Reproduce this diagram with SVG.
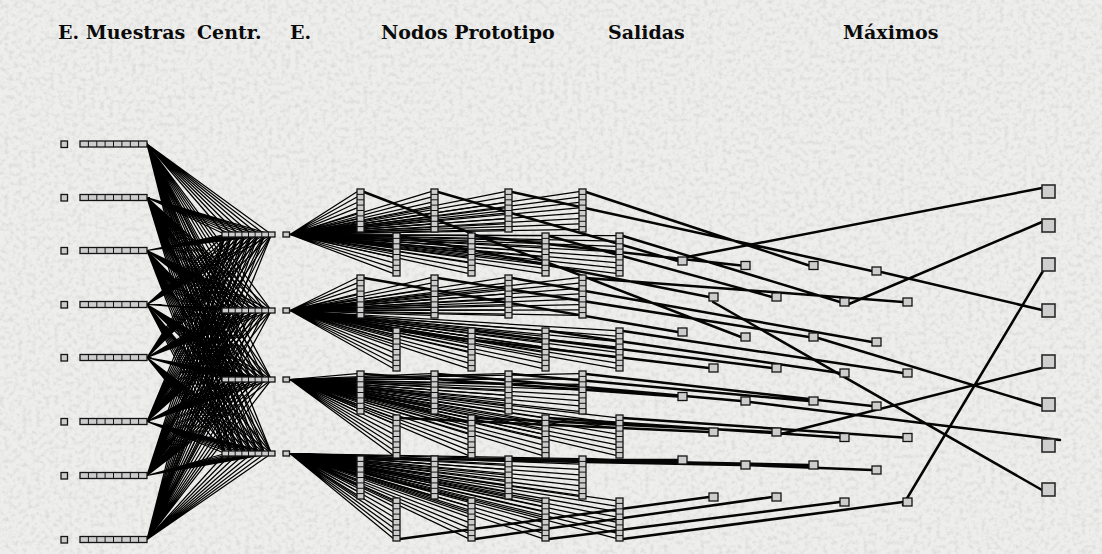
<svg xmlns="http://www.w3.org/2000/svg" xmlns:xlink="http://www.w3.org/1999/xlink" width="1102" height="554" viewBox="0 0 1102 554">
<style>
.t{font-family:"DejaVu Serif","Liberation Serif",serif;font-weight:bold;font-size:19px;fill:#0a0a0a}
.nd{fill:#cdcdcd;stroke:#141414;stroke-width:1.3}
.dv{fill:none;stroke:#141414;stroke-width:1}
.th{fill:none;stroke:#050505;stroke-width:2.5;stroke-linecap:round}
.mx{fill:#cfcfcf;stroke:#2a2a2a;stroke-width:1.6}
</style>
<defs>
<filter id="tx" x="0" y="0" width="1102" height="554" filterUnits="userSpaceOnUse">
<feTurbulence type="fractalNoise" baseFrequency="0.22" numOctaves="3" seed="11"/>
<feColorMatrix values="0 0 0 0 0.6 0 0 0 0 0.6 0 0 0 0 0.59 2.3 0 0 0 -1.0"/>
</filter>
<path id="f8" d="M0 0L0 1M0 0L1 1M0 0L2 1M0 0L3 1M0 0L4 1M0 0L5 1M0 0L6 1M0 0L7 1" fill="none" stroke="#000" stroke-width="1.25" vector-effect="non-scaling-stroke"/>
<g id="srow"><rect class="nd" width="67" height="6"/><path class="dv" d="M8.4 0v6M16.8 0v6M25.1 0v6M33.5 0v6M41.9 0v6M50.3 0v6M58.6 0v6"/></g>
<g id="crow"><rect class="nd" width="53" height="5"/><path class="dv" d="M6.6 0v5M13.2 0v5M19.9 0v5M26.5 0v5M33.1 0v5M39.8 0v5M46.4 0v5"/></g>
<g id="lad"><rect class="nd" width="7" height="43"/><path class="dv" d="M0 5.4h7M0 10.8h7M0 16.1h7M0 21.5h7M0 26.9h7M0 32.3h7M0 37.6h7"/></g>
</defs>
<rect width="1102" height="554" fill="#eeeeec"/>
<rect width="1102" height="554" filter="url(#tx)" opacity="0.55"/>
<g id="titles">
<text class="t" x="58" y="39">E. Muestras</text>
<text class="t" x="197" y="39">Centr.</text>
<text class="t" x="290" y="39">E.</text>
<text class="t" x="381" y="39">Nodos Prototipo</text>
<text class="t" x="608" y="39">Salidas</text>
<text class="t" x="843" y="39">Máximos</text>
</g>
<g id="connectors">
<g id="fans-left">
<use href="#f8" transform="matrix(6.6 0 78.3 90.5 147 144)"/><use href="#f8" transform="matrix(6.6 0 78.3 166.5 147 144)"/><use href="#f8" transform="matrix(6.6 0 78.3 235.5 147 144)"/><use href="#f8" transform="matrix(6.6 0 78.3 309.5 147 144)"/>
<use href="#f8" transform="matrix(6.6 0 78.3 37 147 197.5)"/><use href="#f8" transform="matrix(6.6 0 78.3 113 147 197.5)"/><use href="#f8" transform="matrix(6.6 0 78.3 182 147 197.5)"/><use href="#f8" transform="matrix(6.6 0 78.3 256 147 197.5)"/>
<use href="#f8" transform="matrix(6.6 0 78.3 -16 147 250.5)"/><use href="#f8" transform="matrix(6.6 0 78.3 60 147 250.5)"/><use href="#f8" transform="matrix(6.6 0 78.3 129 147 250.5)"/><use href="#f8" transform="matrix(6.6 0 78.3 203 147 250.5)"/>
<use href="#f8" transform="matrix(6.6 0 78.3 -70 147 304.5)"/><use href="#f8" transform="matrix(6.6 0 78.3 6 147 304.5)"/><use href="#f8" transform="matrix(6.6 0 78.3 75 147 304.5)"/><use href="#f8" transform="matrix(6.6 0 78.3 149 147 304.5)"/>
<use href="#f8" transform="matrix(6.6 0 78.3 -123 147 357.5)"/><use href="#f8" transform="matrix(6.6 0 78.3 -47 147 357.5)"/><use href="#f8" transform="matrix(6.6 0 78.3 22 147 357.5)"/><use href="#f8" transform="matrix(6.6 0 78.3 96 147 357.5)"/>
<use href="#f8" transform="matrix(6.6 0 78.3 -187 147 421.5)"/><use href="#f8" transform="matrix(6.6 0 78.3 -111 147 421.5)"/><use href="#f8" transform="matrix(6.6 0 78.3 -42 147 421.5)"/><use href="#f8" transform="matrix(6.6 0 78.3 32 147 421.5)"/>
<use href="#f8" transform="matrix(6.6 0 78.3 -241 147 475.5)"/><use href="#f8" transform="matrix(6.6 0 78.3 -165 147 475.5)"/><use href="#f8" transform="matrix(6.6 0 78.3 -96 147 475.5)"/><use href="#f8" transform="matrix(6.6 0 78.3 -22 147 475.5)"/>
<use href="#f8" transform="matrix(6.6 0 78.3 -305 147 539.5)"/><use href="#f8" transform="matrix(6.6 0 78.3 -229 147 539.5)"/><use href="#f8" transform="matrix(6.6 0 78.3 -160 147 539.5)"/><use href="#f8" transform="matrix(6.6 0 78.3 -86 147 539.5)"/>
</g>
<g id="fans-proto">
<use href="#f8" transform="matrix(0 5.375 67 -42.8 290 234.5)"/><use href="#f8" transform="matrix(0 5.375 141 -42.8 290 234.5)"/><use href="#f8" transform="matrix(0 5.375 215 -42.8 290 234.5)"/><use href="#f8" transform="matrix(0 5.375 289 -42.8 290 234.5)"/>
<use href="#f8" transform="matrix(0 5.375 103 1.2 290 234.5)"/><use href="#f8" transform="matrix(0 5.375 178 1.2 290 234.5)"/><use href="#f8" transform="matrix(0 5.375 252 1.2 290 234.5)"/><use href="#f8" transform="matrix(0 5.375 326 1.2 290 234.5)"/>
<use href="#f8" transform="matrix(0 5.375 67 -32.8 290 310.5)"/><use href="#f8" transform="matrix(0 5.375 141 -32.8 290 310.5)"/><use href="#f8" transform="matrix(0 5.375 215 -32.8 290 310.5)"/><use href="#f8" transform="matrix(0 5.375 289 -32.8 290 310.5)"/>
<use href="#f8" transform="matrix(0 5.375 103 20.2 290 310.5)"/><use href="#f8" transform="matrix(0 5.375 178 20.2 290 310.5)"/><use href="#f8" transform="matrix(0 5.375 252 20.2 290 310.5)"/><use href="#f8" transform="matrix(0 5.375 326 20.2 290 310.5)"/>
<use href="#f8" transform="matrix(0 5.375 67 -5.8 290 379.5)"/><use href="#f8" transform="matrix(0 5.375 141 -5.8 290 379.5)"/><use href="#f8" transform="matrix(0 5.375 215 -5.8 290 379.5)"/><use href="#f8" transform="matrix(0 5.375 289 -5.8 290 379.5)"/>
<use href="#f8" transform="matrix(0 5.375 103 38.2 290 379.5)"/><use href="#f8" transform="matrix(0 5.375 178 38.2 290 379.5)"/><use href="#f8" transform="matrix(0 5.375 252 38.2 290 379.5)"/><use href="#f8" transform="matrix(0 5.375 326 38.2 290 379.5)"/>
<use href="#f8" transform="matrix(0 5.375 67 5.2 290 453.5)"/><use href="#f8" transform="matrix(0 5.375 141 5.2 290 453.5)"/><use href="#f8" transform="matrix(0 5.375 215 5.2 290 453.5)"/><use href="#f8" transform="matrix(0 5.375 289 5.2 290 453.5)"/>
<use href="#f8" transform="matrix(0 5.375 103 47.2 290 453.5)"/><use href="#f8" transform="matrix(0 5.375 178 47.2 290 453.5)"/><use href="#f8" transform="matrix(0 5.375 252 47.2 290 453.5)"/><use href="#f8" transform="matrix(0 5.375 326 47.2 290 453.5)"/>
</g>
<path id="proto-out" class="th" d="M364 192L741 337M438 192L678 261M512 192L872 271M586 192L809 265.5M400 236L709 297M475 236L741 265.5M549 236L772 297M623 236L840 302
M364 278L678 332M438 278L809 337M512 278L872 342M586 278L903 302M400 331L709 368M475 331L772 368M549 331L840 373M623 331L903 373
M364 374L678 396.5M438 374L741 401M512 374L809 401M586 374L872 406M400 418L709 432M475 418L772 432M549 418L840 437.5M623 418L903 437.5
M364 459L678 460M438 459L741 465M512 459L809 465M586 459L872 470M400 539L709 497M475 539L772 497M549 539L840 502M623 539L903 502"/>
<path id="max-in" class="th" d="M687 257L1042 188M849 304L1042 222M903 505L1046 266M881 272L1042 310M781 434L1042 368M818 338L1042 406M750 402L1060 440M713 302L1042 490"/>
</g>
<g id="inputs">
<rect id="x1" class="nd" x="61" y="141" width="6.5" height="6.5"/><rect id="x2" class="nd" x="61" y="194.5" width="6.5" height="6.5"/><rect id="x3" class="nd" x="61" y="247.5" width="6.5" height="6.5"/><rect id="x4" class="nd" x="61" y="301.5" width="6.5" height="6.5"/>
<rect id="x5" class="nd" x="61" y="354.5" width="6.5" height="6.5"/><rect id="x6" class="nd" x="61" y="418.5" width="6.5" height="6.5"/><rect id="x7" class="nd" x="61" y="472.5" width="6.5" height="6.5"/><rect id="x8" class="nd" x="61" y="536.5" width="6.5" height="6.5"/>
</g>
<g id="muestras">
<use id="m1" href="#srow" x="80" y="141"/><use id="m2" href="#srow" x="80" y="194.5"/><use id="m3" href="#srow" x="80" y="247.5"/><use id="m4" href="#srow" x="80" y="301.5"/>
<use id="m5" href="#srow" x="80" y="354.5"/><use id="m6" href="#srow" x="80" y="418.5"/><use id="m7" href="#srow" x="80" y="472.5"/><use id="m8" href="#srow" x="80" y="536.5"/>
</g>
<g id="centr">
<use id="c1" href="#crow" x="222" y="232"/><use id="c2" href="#crow" x="222" y="308"/><use id="c3" href="#crow" x="222" y="377"/><use id="c4" href="#crow" x="222" y="451"/>
</g>
<g id="enodes">
<rect id="e1" class="nd" x="283" y="232" width="6.5" height="5"/><rect id="e2" class="nd" x="283" y="308" width="6.5" height="5"/><rect id="e3" class="nd" x="283" y="377" width="6.5" height="5"/><rect id="e4" class="nd" x="283" y="451" width="6.5" height="5"/>
</g>
<g id="prototipos">
<use id="p1a" href="#lad" x="357" y="189"/><use id="p1b" href="#lad" x="431" y="189"/><use id="p1c" href="#lad" x="505" y="189"/><use id="p1d" href="#lad" x="579" y="189"/>
<use id="p1e" href="#lad" x="393" y="233"/><use id="p1f" href="#lad" x="468" y="233"/><use id="p1g" href="#lad" x="542" y="233"/><use id="p1h" href="#lad" x="616" y="233"/>
<use id="p2a" href="#lad" x="357" y="275"/><use id="p2b" href="#lad" x="431" y="275"/><use id="p2c" href="#lad" x="505" y="275"/><use id="p2d" href="#lad" x="579" y="275"/>
<use id="p2e" href="#lad" x="393" y="328"/><use id="p2f" href="#lad" x="468" y="328"/><use id="p2g" href="#lad" x="542" y="328"/><use id="p2h" href="#lad" x="616" y="328"/>
<use id="p3a" href="#lad" x="357" y="371"/><use id="p3b" href="#lad" x="431" y="371"/><use id="p3c" href="#lad" x="505" y="371"/><use id="p3d" href="#lad" x="579" y="371"/>
<use id="p3e" href="#lad" x="393" y="415"/><use id="p3f" href="#lad" x="468" y="415"/><use id="p3g" href="#lad" x="542" y="415"/><use id="p3h" href="#lad" x="616" y="415"/>
<use id="p4a" href="#lad" x="357" y="456"/><use id="p4b" href="#lad" x="431" y="456"/><use id="p4c" href="#lad" x="505" y="456"/><use id="p4d" href="#lad" x="579" y="456"/>
<use id="p4e" href="#lad" x="393" y="498"/><use id="p4f" href="#lad" x="468" y="498"/><use id="p4g" href="#lad" x="542" y="498"/><use id="p4h" href="#lad" x="616" y="498"/>
</g>
<g id="salidas">
<rect class="nd" x="678" y="257" width="9" height="8"/><rect class="nd" x="741" y="261.5" width="9" height="8"/><rect class="nd" x="809" y="261.5" width="9" height="8"/><rect class="nd" x="872" y="267" width="9" height="8"/>
<rect class="nd" x="709" y="293" width="9" height="8"/><rect class="nd" x="772" y="293" width="9" height="8"/><rect class="nd" x="840" y="298" width="9" height="8"/><rect class="nd" x="903" y="298" width="9" height="8"/>
<rect class="nd" x="678" y="328" width="9" height="8"/><rect class="nd" x="741" y="333" width="9" height="8"/><rect class="nd" x="809" y="333" width="9" height="8"/><rect class="nd" x="872" y="338" width="9" height="8"/>
<rect class="nd" x="709" y="364" width="9" height="8"/><rect class="nd" x="772" y="364" width="9" height="8"/><rect class="nd" x="840" y="369" width="9" height="8"/><rect class="nd" x="903" y="369" width="9" height="8"/>
<rect class="nd" x="678" y="392.5" width="9" height="8"/><rect class="nd" x="741" y="397" width="9" height="8"/><rect class="nd" x="809" y="397" width="9" height="8"/><rect class="nd" x="872" y="402" width="9" height="8"/>
<rect class="nd" x="709" y="428" width="9" height="8"/><rect class="nd" x="772" y="428" width="9" height="8"/><rect class="nd" x="840" y="433.5" width="9" height="8"/><rect class="nd" x="903" y="433.5" width="9" height="8"/>
<rect class="nd" x="678" y="456" width="9" height="8"/><rect class="nd" x="741" y="461" width="9" height="8"/><rect class="nd" x="809" y="461" width="9" height="8"/><rect class="nd" x="872" y="466" width="9" height="8"/>
<rect class="nd" x="709" y="493" width="9" height="8"/><rect class="nd" x="772" y="493" width="9" height="8"/><rect class="nd" x="840" y="498" width="9" height="8"/><rect class="nd" x="903" y="498" width="9" height="8"/>
</g>
<g id="maximos">
<rect id="mx1" class="mx" x="1042" y="185" width="13" height="13"/><rect id="mx2" class="mx" x="1042" y="219" width="13" height="13"/><rect id="mx3" class="mx" x="1042" y="258" width="13" height="13"/><rect id="mx4" class="mx" x="1042" y="304" width="13" height="13"/>
<rect id="mx5" class="mx" x="1042" y="355" width="13" height="13"/><rect id="mx6" class="mx" x="1042" y="398" width="13" height="13"/><rect id="mx7" class="mx" x="1042" y="439" width="13" height="13"/><rect id="mx8" class="mx" x="1042" y="483" width="13" height="13"/>
</g>
</svg>
